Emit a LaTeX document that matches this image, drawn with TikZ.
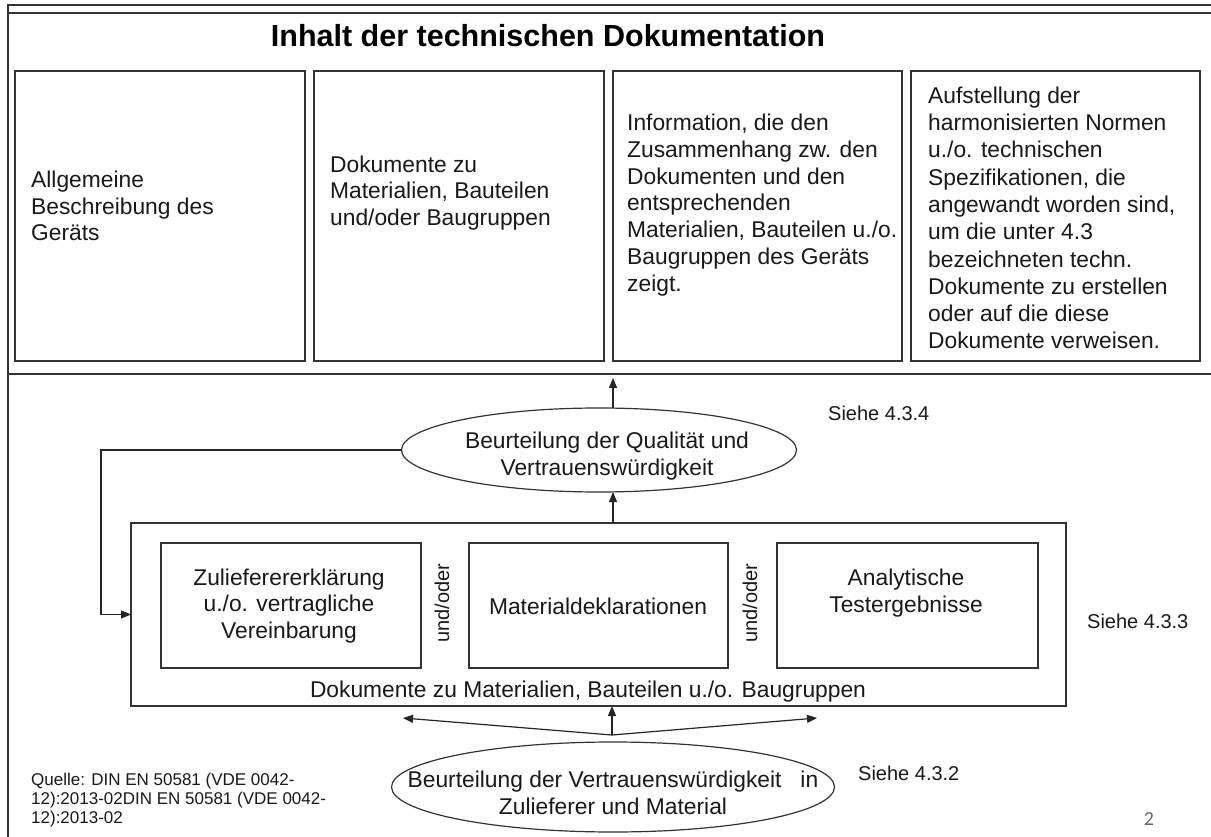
\documentclass[tikz,border=0pt]{standalone}
\usepackage{fontspec}
\setmainfont{Liberation Sans}
\newfontfamily\numfont{Carlito}
\usetikzlibrary{shapes.geometric,arrows.meta,calc}
\begin{document}
\begin{tikzpicture}[x=1pt,y=-1pt,
  box/.style={draw=black!80, line width=1.2pt, inner sep=0pt, outer sep=0pt, rectangle},
  ell/.style={ellipse, draw=black!80, line width=1.2pt, inner sep=0pt, outer sep=0pt},
  frame/.style={draw=black!80, line width=1.3pt},
  txt/.style={font=\fontsize{22.8}{26.8}\selectfont, inner sep=0pt, text=black!90},
  ltxt/.style={txt, align=left},
  ctxt/.style={txt, align=center},
  small/.style={font=\fontsize{20}{23}\selectfont, inner sep=0pt, text=black!90},
  arr/.style={draw=black!85, line width=1.2pt, -{Triangle[length=10pt,width=8pt]}},
  plain/.style={draw=black!85, line width=1.2pt}]
\useasboundingbox (0,0) rectangle (1211,837);
\fill[white] (0,0) rectangle (1211,837);
% frame lines
\draw[frame] (8,837) -- (8,5) -- (1211,5);
\draw[frame] (8,13) -- (1211,13);
\draw[frame] (8,374) -- (1211,374);
% title
\node[inner sep=0pt, anchor=base, font=\bfseries\fontsize{30.5}{36}\selectfont] (title) at (548,47) {Inhalt der technischen Dokumentation};
% top boxes
\node[box, minimum width=290pt, minimum height=290pt] (b1) at (160,216) {};
\node[box, minimum width=290pt, minimum height=290pt] (b2) at (459,216) {};
\node[box, minimum width=289pt, minimum height=290pt] (b3) at (757.5,216) {};
\node[box, minimum width=289pt, minimum height=290pt] (b4) at (1055.5,216) {};
\node[ltxt, anchor=west] (t1) at (31,206) {Allgemeine\\Beschreibung des\\Geräts};
\node[ltxt, anchor=west] (t2) at (330,193) {Dokumente zu\\Materialien, Bauteilen\\und/oder Baugruppen};
\node[ltxt, anchor=west] (t3) at (627,205) {Information, die den\\Zusammenhang zw. den\\Dokumenten und den\\entsprechenden\\Materialien, Bauteilen u./o.\\Baugruppen des Geräts\\zeigt.};
\node[ltxt, anchor=west, font=\fontsize{22.8}{27.3}\selectfont] (t4) at (928,218) {Aufstellung der\\harmonisierten Normen\\u./o. technischen\\Spezifikationen, die\\angewandt worden sind,\\um die unter 4.3\\bezeichneten techn.\\Dokumente zu erstellen\\oder auf die diese\\Dokumente verweisen.};
% ellipse 1
\node[ell, minimum width=395pt, minimum height=84pt] (e1) at (599,450) {};
\node[ctxt] (e1t) at (607,456) {Beurteilung der Qualität und\\Vertrauenswürdigkeit};
\node[small, anchor=base west] (s4) at (828,420) {Siehe 4.3.4};
\coordinate (topline) at (613,378);
\draw[arr] ($(e1.north)+(14,0)$) -- (topline);
% big box
\node[box, minimum width=935pt, minimum height=183pt] (big) at (598.5,614.5) {};
\node[box, minimum width=260pt, minimum height=125pt] (ia) at (291,605.5) {};
\node[box, minimum width=259pt, minimum height=125pt] (ib) at (598.5,605.5) {};
\node[box, minimum width=261pt, minimum height=125pt] (ic) at (907.5,605.5) {};
\node[ctxt] (iat) at (289,606) {Zulieferererklärung\\u./o. vertragliche\\Vereinbarung};
\node[ctxt] (ibt) at (598,606) {Materialdeklarationen};
\node[ctxt] (ict) at (906,593) {Analytische\\Testergebnisse};
\node[small, rotate=90] (uo1) at (442,603) {und/oder};
\node[small, rotate=90] (uo2) at (750,603) {und/oder};
\node[txt, anchor=base] (bigt) at (588,697) {Dokumente zu Materialien, Bauteilen u./o. Baugruppen};
\node[small, anchor=base west] (s3) at (1087,628) {Siehe 4.3.3};
\draw[arr] ($(big.north)+(14.5,0)$) -- ($(e1.south)+(14,0)$);
\coordinate (fb) at (101,450);
\draw[arr] (e1.west) -- (fb) |- (big.west);
% ellipse 2
\node[ell, minimum width=443pt, minimum height=90pt] (e2) at (613,787) {};
\node[ctxt] (e2t) at (613,793) {Beurteilung der Vertrauenswürdigkeit\ \ \ in\\Zulieferer und Material};
\node[small, anchor=base west] (s2) at (858,780) {Siehe 4.3.2};
\coordinate (j) at ($(e2.north)+(-1,-7)$);
\coordinate (la) at (403,718);
\coordinate (ra) at (817,718);
\draw[arr] (j) -- ($(big.south)+(13.5,0)$);
\draw[arr] (j) -- (la);
\draw[arr] (j) -- (ra);
% source
\node[inner sep=0pt, anchor=west, align=left, font=\fontsize{17}{18.7}\selectfont, text=black!90] (src) at (31,800) {Quelle: DIN EN 50581 (VDE 0042-\\12):2013-02DIN EN 50581 (VDE 0042-\\12):2013-02};
\node[inner sep=0pt, anchor=base, font=\numfont\fontsize{20}{24}\selectfont, text=black!60] (pg) at (1149,825) {2};
\end{tikzpicture}
\end{document}
